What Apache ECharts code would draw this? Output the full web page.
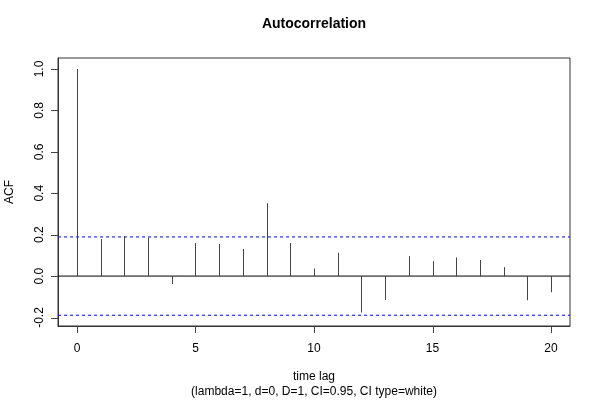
<!DOCTYPE html>
<html><head><meta charset="utf-8">
<script src="https://cdn.jsdelivr.net/npm/echarts@6/dist/echarts.min.js"></script>
<style>html,body{margin:0;padding:0;background:#fff}#c{width:600px;height:400px}</style>
</head><body><div id="c"></div>
<script>
const lags = [0,1,2,3,4,5,6,7,8,9,10,11,12,13,14,15,16,17,18,19,20];
const acf = [1.0,0.179,0.192,0.186,-0.038,0.160,0.155,0.131,0.352,0.160,0.037,0.112,-0.176,-0.115,0.096,0.072,0.090,0.078,0.043,-0.117,-0.078];
const ciLevel = 0.189;
const xRange = [-0.8, 20.8];
const yRange = [-0.241, 1.053];
const xTicks = [0,5,10,15,20];
const yTicks = [-0.2,0,0.2,0.4,0.6,0.8,1.0];
const titleText = 'Autocorrelation';
const xName = 'time lag';
const subName = '(lambda=1, d=0, D=1, CI=0.95, CI type=white)';
const yName = 'ACF';

const font = 'Liberation Sans, Arial, Helvetica, sans-serif';
const TICK = 7;
const chart = echarts.init(document.getElementById('c'), null, {renderer:'canvas'});
function hline(y, color, type){
  return {type:'line',data:[[xRange[0],y],[xRange[1],y]],symbol:'none',silent:true,
    lineStyle:{color:color,type:type,width:1},z:1};
}
chart.setOption({
  animation:false,
  grid:{left:58,right:30,top:58,bottom:74,show:true,borderColor:'#333',borderWidth:1,outerBoundsMode:'none'},
  xAxis:{type:'value',min:xRange[0],max:xRange[1],
    name:xName+'\n'+subName,nameLocation:'middle',nameGap:43,
    nameTextStyle:{fontFamily:font,fontSize:12,color:'#000',lineHeight:15},
    axisLine:{show:true,onZero:false,lineStyle:{color:'#333'}},splitLine:{show:false},
    axisTick:{show:false},
    axisLabel:{customValues:xTicks,margin:17,fontFamily:font,fontSize:12,color:'#000'}},
  yAxis:{type:'value',min:yRange[0],max:yRange[1],
    name:yName,nameLocation:'middle',nameGap:42,nameRotate:90,
    nameTextStyle:{fontFamily:font,fontSize:12,color:'#000'},
    axisLine:{show:true,onZero:false,lineStyle:{color:'#333'}},splitLine:{show:false},
    axisTick:{show:false},
    axisLabel:{show:false}},
  series:[
    {type:'custom',data:lags.map((l,i)=>[l,acf[i]]),z:3,
      renderItem:function(params,api){
        const p0=api.coord([api.value(0),0]);
        const p1=api.coord([api.value(0),api.value(1)]);
        const x=Math.round(p0[0])+0.5;
        return {type:'line',shape:{x1:x,y1:p0[1],x2:x,y2:p1[1]},style:{stroke:'#444',lineWidth:1}};
      }
    },
    hline(0,'#000','solid'),
    hline(ciLevel,'#0000ff',[3,3]),
    hline(-ciLevel,'#0000ff',[3,3])
  ]
});
const g = [{type:'text',x:314,y:24,style:{text:titleText,align:'center',verticalAlign:'middle',
    font:'bold 14px '+font,fill:'#000'}}];
xTicks.forEach(t=>{
  const p = chart.convertToPixel({gridIndex:0},[t,yRange[0]]);
  g.push({type:'rect',silent:true,shape:{x:Math.round(p[0]),y:Math.round(p[1]),width:1,height:TICK},style:{fill:'#444'}});
});
yTicks.forEach(t=>{
  const p = chart.convertToPixel({gridIndex:0},[xRange[0],t]);
  g.push({type:'rect',silent:true,shape:{x:Math.round(p[0])-TICK,y:Math.round(p[1]),width:TICK,height:1},style:{fill:'#444'}});
  g.push({type:'text',silent:true,x:Math.round(p[0])-18,y:p[1],rotation:Math.PI/2,
    style:{text:t.toFixed(1),align:'center',verticalAlign:'middle',font:'12px '+font,fill:'#000'}});
});
chart.setOption({graphic:g});
</script></body></html>
